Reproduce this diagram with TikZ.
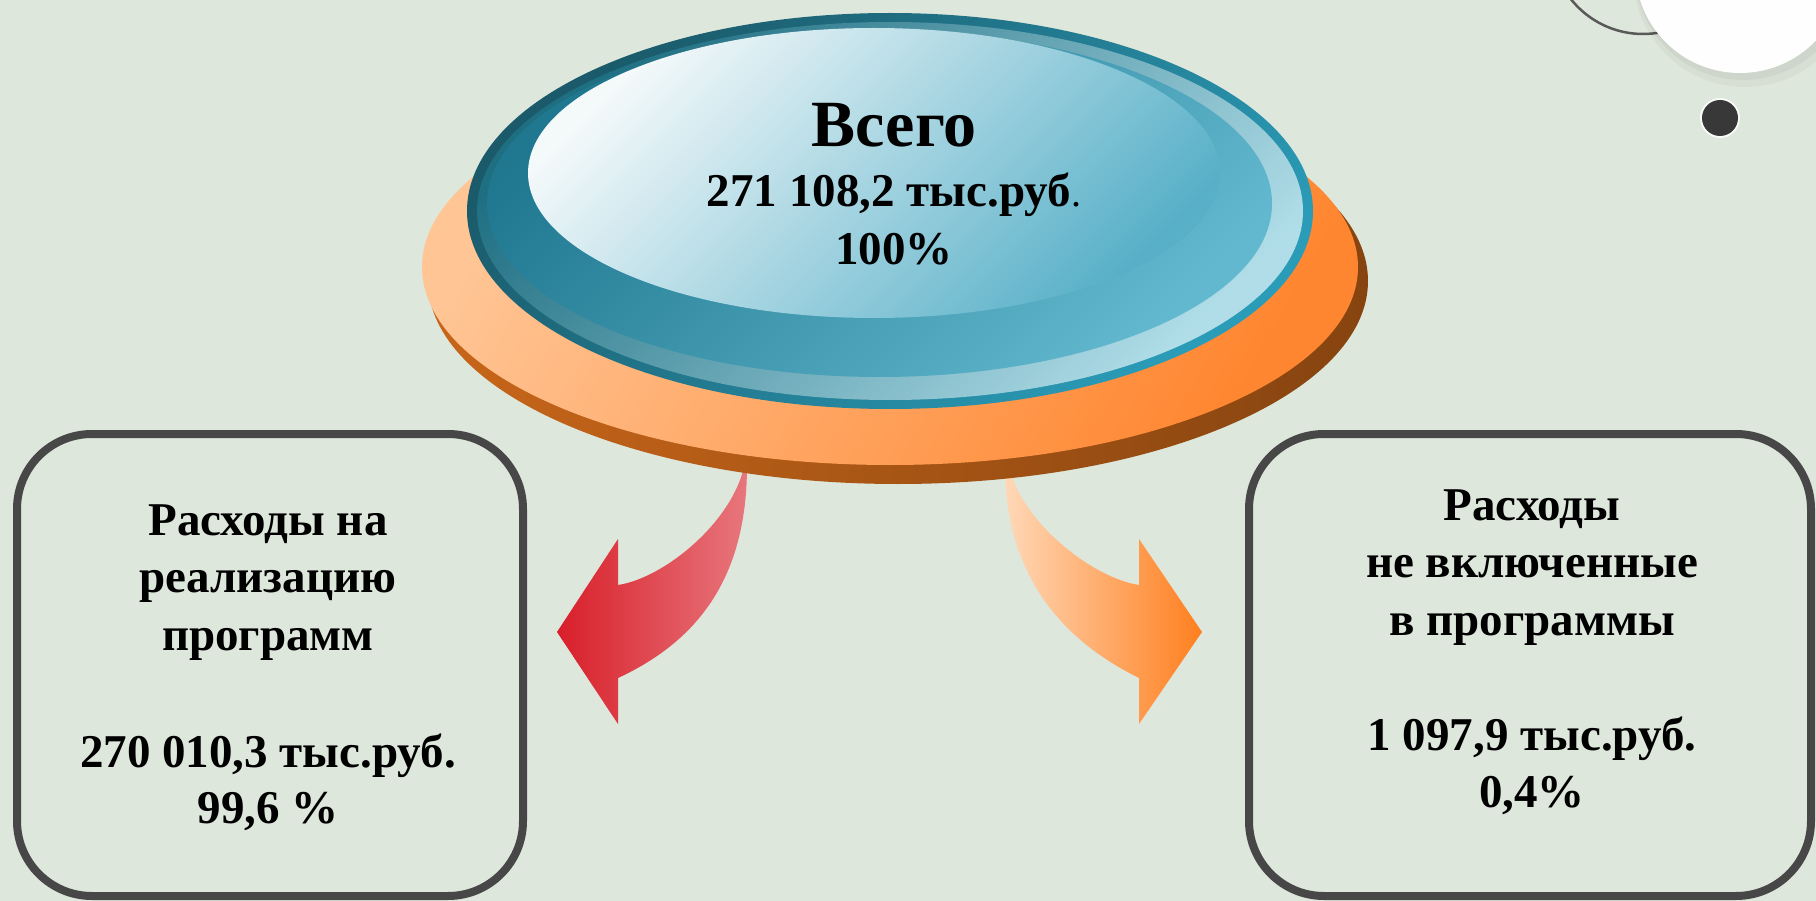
\documentclass[tikz,border=0pt]{standalone}
\usepackage{fontspec}
\setmainfont{Liberation Serif}[BoldFont={Liberation Serif Bold}]
\definecolor{bg}{HTML}{DEE7DC}
\definecolor{boxline}{HTML}{474747}
\definecolor{orA}{HTML}{FFC595}
\definecolor{orB}{HTML}{FF8630}
\definecolor{brA}{HTML}{C8661A}
\definecolor{brB}{HTML}{864410}
\definecolor{blA}{HTML}{1A5A6A}
\definecolor{blB}{HTML}{2B9CB8}
\definecolor{rgA}{HTML}{1F6F82}
\definecolor{rgB}{HTML}{B0DDE8}
\definecolor{mnA}{HTML}{1F7890}
\definecolor{mnB}{HTML}{62B8CE}
\definecolor{hlA}{HTML}{F4F9FA}
\definecolor{hlB}{HTML}{58B0C8}
\definecolor{arLA}{HTML}{D81F2A}
\definecolor{arLB}{HTML}{E8777D}
\definecolor{arRA}{HTML}{FFD8B8}
\definecolor{arRB}{HTML}{FF7F1E}
\begin{document}
\begin{tikzpicture}[x=1pt,y=-1pt,
  roundbox/.style={draw=boxline, line width=8pt, rounded corners=75pt, inner sep=0pt},
  bigtxt/.style={anchor=base, inner sep=0pt, font=\fontsize{66}{66}\selectfont\bfseries},
  midtxt/.style={anchor=base, inner sep=0pt, font=\fontsize{47}{47}\selectfont\bfseries},
  boxtxt/.style={anchor=base, inner sep=0pt, font=\fontsize{47}{47}\selectfont\bfseries}]
\useasboundingbox (0,0) rectangle (1816,901);
\clip (0,0) rectangle (1816,901);
\fill[bg] (0,0) rectangle (1816,901);

% top-right decoration
\draw[gray!70!black, line width=2.5pt] (1643,-58) circle[radius=92];
\fill[black, opacity=0.03] (1745,-25) circle[radius=112];
\fill[black, opacity=0.04] (1743,-28) circle[radius=108];
\fill[white!96!bg] (1740,-32) circle[radius=105];
\fill[white!80!bg] (1720,118) circle[radius=20];
\fill[black!78] (1720,118) circle[radius=18];

% arrows
\shade[left color=arLA, right color=arLB]
  (618,585) .. controls (665,578) and (735,520) .. (745,462) -- (747,462)
  .. controls (748,575) and (700,640) .. (618,678) -- (618,724) -- (557,632) -- (618,539) -- cycle;
\shade[left color=arRA, right color=arRB]
  (1139,585) .. controls (1092,578) and (1018,520) .. (1008,462) -- (1005,462)
  .. controls (1004,575) and (1062,640) .. (1139,678) -- (1139,724) -- (1202,632) -- (1139,539) -- cycle;

% orange disc
\shade[left color=brA, right color=brB] (898,281) ellipse[x radius=470, y radius=203];
\shade[top color=orA, bottom color=orB, shading angle=60] (890,267) ellipse[x radius=468, y radius=198];

% blue button
\shade[top color=blA, bottom color=blB, shading angle=45] (890,211) ellipse[x radius=423, y radius=198];
\shade[top color=rgA, bottom color=rgB, shading angle=45] (890,211) ellipse[x radius=413, y radius=189];
\shade[top color=mnA, bottom color=mnB, shading angle=45] (879.5,203.5) ellipse[x radius=392.5, y radius=173.5];
\shade[top color=hlA, bottom color=hlB, shading angle=45] (874,173) ellipse[x radius=346, y radius=145];

\node[bigtxt] (t1) at (894,147) {Всего};
\node[midtxt] (t2) at (894,207) {271 108,2 тыс.руб{\mdseries\fontsize{40}{40}\selectfont.}};
\node[midtxt] (t3) at (894,265) {100\%};

% boxes
\node[roundbox, minimum width=506pt, minimum height=462pt] (lbox) at (270,665) {};
\node[roundbox, minimum width=562pt, minimum height=462pt] (rbox) at (1530,665) {};

\node[boxtxt] (l1) at (268,535) {Расходы на};
\node[boxtxt] (l2) at (268,592) {реализацию};
\node[boxtxt] (l3) at (268,650) {программ};
\node[boxtxt] (l4) at (268,767) {270 010,3 тыс.руб.};
\node[boxtxt] (l5) at (268,823) {99,6 \%};

\node[boxtxt] (r1) at (1532,520) {Расходы};
\node[boxtxt] (r2) at (1532,577) {не включенные};
\node[boxtxt] (r3) at (1532,635) {в программы};
\node[boxtxt] (r4) at (1532,750) {1 097,9 тыс.руб.};
\node[boxtxt] (r5) at (1532,807) {0,4\%};
\end{tikzpicture}
\end{document}
